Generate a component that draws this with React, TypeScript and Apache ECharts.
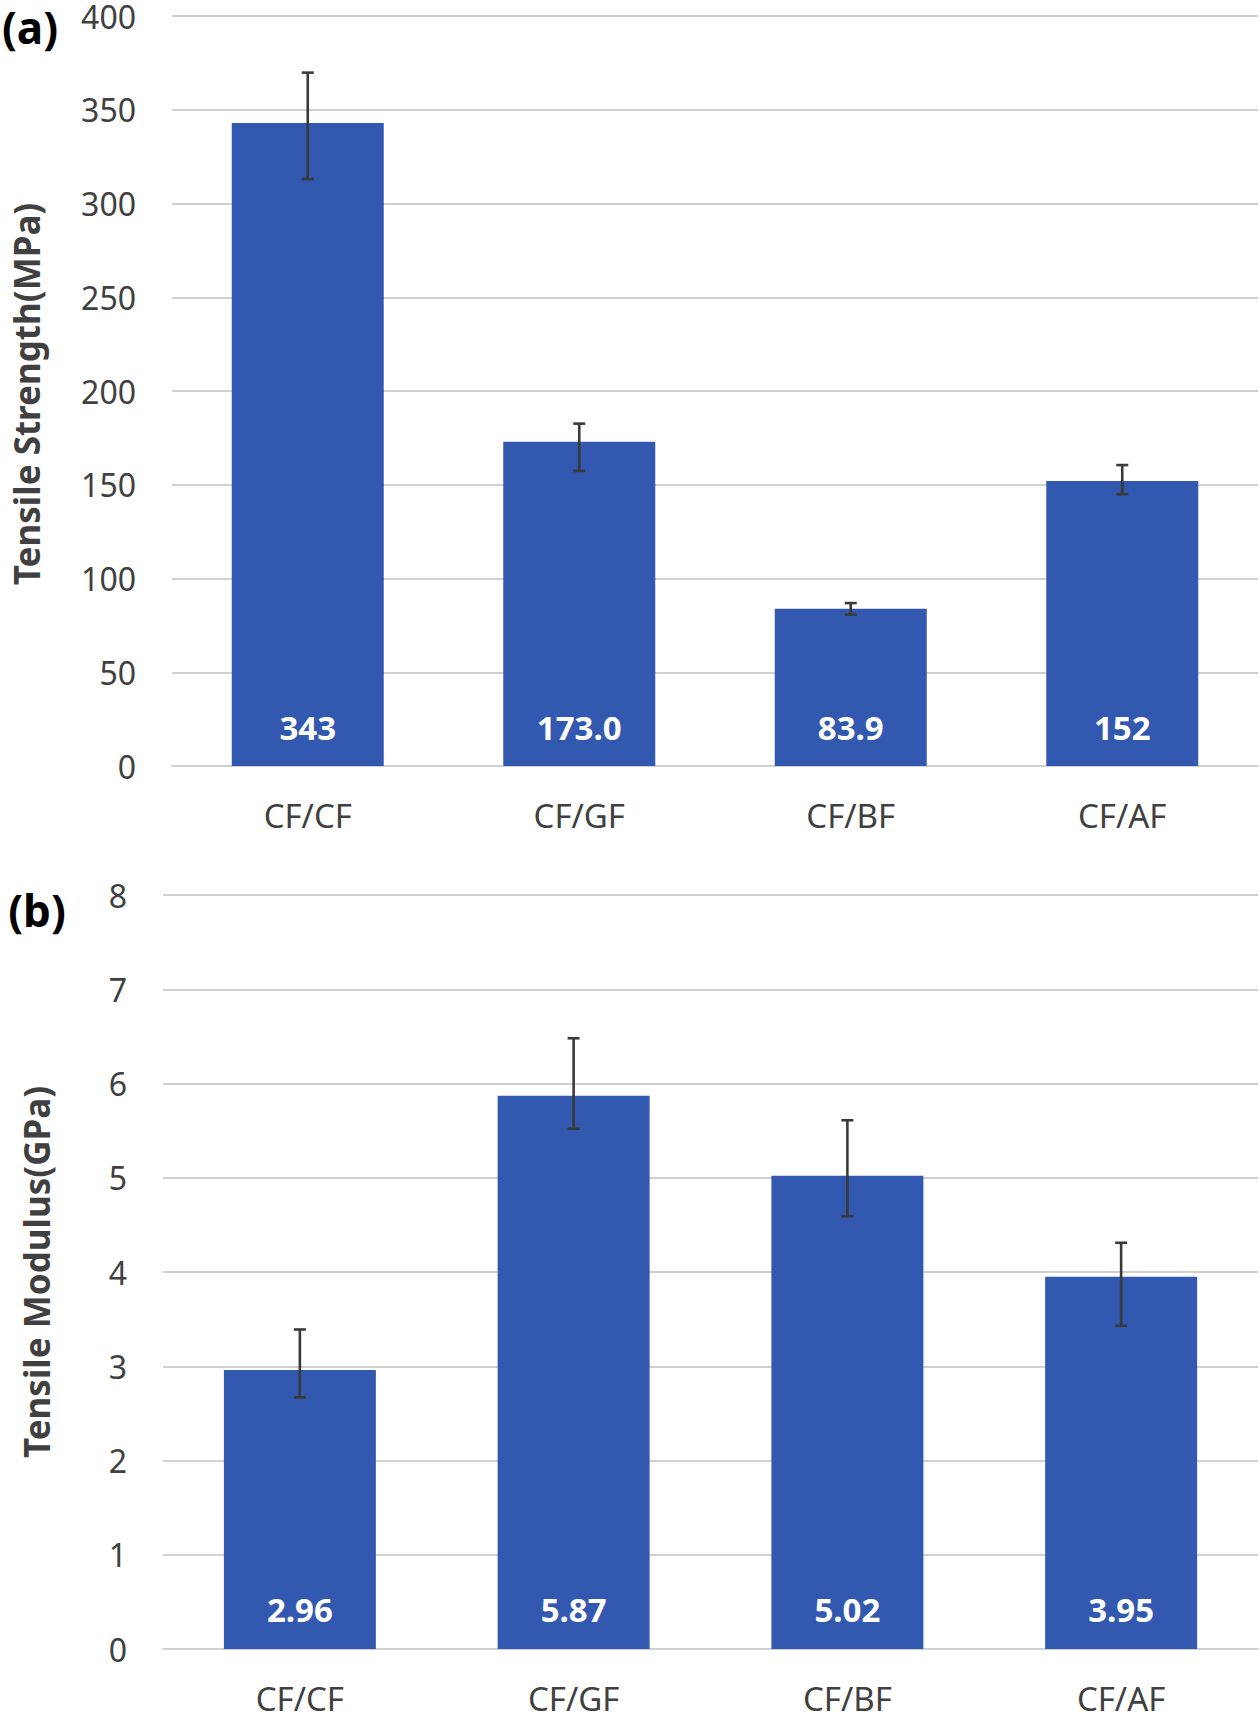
import React, { useEffect, useRef } from "react";
import * as echarts from "echarts";

const categories = ["CF/CF", "CF/GF", "CF/BF", "CF/AF"];

const strengthValues = [343, 173.0, 83.9, 152];
const strengthLabels = ["343", "173.0", "83.9", "152"];
const strengthLow = [313, 157.4, 80.7, 145.0];
const strengthHigh = [369.8, 182.6, 86.9, 160.5];

const modulusValues = [2.96, 5.87, 5.02, 3.95];
const modulusLabels = ["2.96", "5.87", "5.02", "3.95"];
const modulusLow = [2.67, 5.52, 4.59, 3.43];
const modulusHigh = [3.39, 6.48, 5.61, 4.31];

const FONT = "Noto Sans";
const BAR = "#3258B0";
const TEXT = "#404040";
const GRIDC = "#d0d0d0";

function errorRender(params: any, api: any) {
  const x = api.value(0);
  const lo = api.coord([x, api.value(1)]);
  const hi = api.coord([x, api.value(2)]);
  const hw = 6;
  const style = { stroke: "#3a3a3a", lineWidth: 2.6 };
  return {
    type: "group",
    children: [
      { type: "line", shape: { x1: hi[0], y1: hi[1], x2: lo[0], y2: lo[1] }, style },
      { type: "line", shape: { x1: hi[0] - hw, y1: hi[1], x2: hi[0] + hw, y2: hi[1] }, style },
      { type: "line", shape: { x1: lo[0] - hw, y1: lo[1], x2: lo[0] + hw, y2: lo[1] }, style },
    ],
  };
}

export default function App() {
  const ref = useRef<HTMLDivElement>(null);
  useEffect(() => {
    if (!ref.current) return;
    const chart = echarts.init(ref.current, undefined, { renderer: "svg" });
    const xAxisCommon = (gridIndex: number) => ({
      type: "category",
      gridIndex,
      data: categories,
      axisTick: { show: false },
      axisLine: { show: true, lineStyle: { color: GRIDC, width: 2 } },
      axisLabel: { color: TEXT, fontSize: 33, fontFamily: FONT, margin: 33 },
    });
    const yAxisCommon = (gridIndex: number, max: number, interval: number) => ({
      type: "value",
      gridIndex,
      min: 0,
      max,
      interval,
      axisLine: { show: false },
      axisTick: { show: false },
      splitLine: { show: true, lineStyle: { color: GRIDC, width: 2 } },
      axisLabel: { color: TEXT, fontSize: 32, fontFamily: FONT, margin: 36 },
    });
    chart.setOption({
      animation: false,
      backgroundColor: "#ffffff",
      grid: [
        { left: 172, right: 2, top: 14, height: 752 },
        { left: 163, right: 2, top: 895, height: 754 },
      ],
      xAxis: [xAxisCommon(0), xAxisCommon(1)],
      yAxis: [yAxisCommon(0, 400, 50), yAxisCommon(1, 8, 1)],
      series: [
        {
          type: "bar",
          xAxisIndex: 0,
          yAxisIndex: 0,
          data: strengthValues,
          barWidth: 152,
          itemStyle: { color: BAR },
          label: {
            show: true,
            position: "insideBottom",
            distance: 22,
            color: "#ffffff",
            fontWeight: "bold",
            fontSize: 33,
            fontFamily: FONT,
            formatter: (p: any) => strengthLabels[p.dataIndex],
          },
        },
        {
          type: "custom",
          xAxisIndex: 0,
          yAxisIndex: 0,
          z: 5,
          renderItem: errorRender,
          encode: { x: 0, y: [1, 2] },
          data: categories.map((_, i) => [i, strengthLow[i], strengthHigh[i]]),
        },
        {
          type: "bar",
          xAxisIndex: 1,
          yAxisIndex: 1,
          data: modulusValues,
          barWidth: 152,
          itemStyle: { color: BAR },
          label: {
            show: true,
            position: "insideBottom",
            distance: 23,
            color: "#ffffff",
            fontWeight: "bold",
            fontSize: 33,
            fontFamily: FONT,
            formatter: (p: any) => modulusLabels[p.dataIndex],
          },
        },
        {
          type: "custom",
          xAxisIndex: 1,
          yAxisIndex: 1,
          z: 5,
          renderItem: errorRender,
          encode: { x: 0, y: [1, 2] },
          data: categories.map((_, i) => [i, modulusLow[i], modulusHigh[i]]),
        },
      ],
      graphic: [
        {
          type: "text",
          x: 30,
          y: 27,
          style: {
            text: "(a)",
            fontSize: 44,
            fontWeight: "bold",
            fontFamily: FONT,
            fill: "#000000",
            textAlign: "center",
            textVerticalAlign: "middle",
          },
        },
        {
          type: "text",
          x: 37,
          y: 910,
          style: {
            text: "(b)",
            fontSize: 44,
            fontWeight: "bold",
            fontFamily: FONT,
            fill: "#000000",
            textAlign: "center",
            textVerticalAlign: "middle",
          },
        },
        {
          type: "text",
          x: 26,
          y: 394,
          rotation: Math.PI / 2,
          style: {
            text: "Tensile Strength(MPa)",
            fontSize: 35,
            fontWeight: "bold",
            fontFamily: FONT,
            fill: TEXT,
            textAlign: "center",
            textVerticalAlign: "middle",
          },
        },
        {
          type: "text",
          x: 36,
          y: 1272,
          rotation: Math.PI / 2,
          style: {
            text: "Tensile Modulus(GPa)",
            fontSize: 35,
            fontWeight: "bold",
            fontFamily: FONT,
            fill: TEXT,
            textAlign: "center",
            textVerticalAlign: "middle",
          },
        },
      ],
    });
    return () => chart.dispose();
  }, []);
  return (
    <div
      ref={ref}
      style={{ position: "absolute", left: 0, top: 0, width: 1260, height: 1715 }}
    />
  );
}
